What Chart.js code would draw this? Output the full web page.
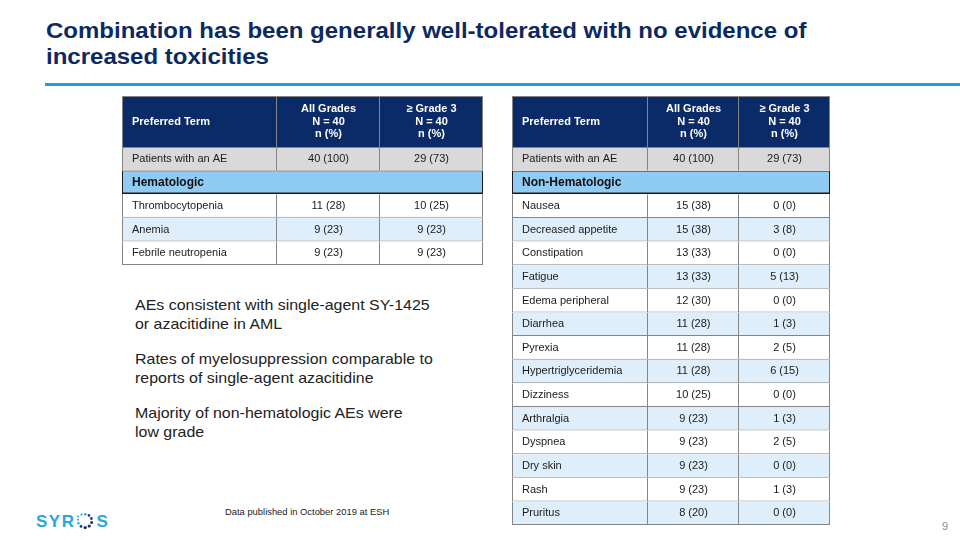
<!DOCTYPE html>
<html>
<head>
<meta charset="utf-8">
<title>Combination tolerability</title>
<script src="https://cdn.jsdelivr.net/npm/chart.js@4.4.1/dist/chart.umd.min.js"></script>
<style>
    html, body { margin: 0; padding: 0; }
    body {
        width: 960px; height: 540px; position: relative; overflow: hidden;
        background: #fff; font-family: "Liberation Sans", Arial, sans-serif;
    }
    .title {
        position: absolute; left: 46px; top: 18px; white-space: nowrap;
        font-size: 22.5px; line-height: 26px; font-weight: bold; color: #0c2a5f;
        transform: scaleX(1.067); transform-origin: left top;
    }
    .rule { position: absolute; left: 45px; top: 83px; width: 915px; height: 3px; background: #1ea0d8; }
    canvas.tbl { position: absolute; }
    #hemaHead { left: 122px; top: 96px; width: 361px; height: 51px; }
    #hemaBody { left: 122px; top: 147px; width: 361px; height: 118px; }
    #nonHemaHead { left: 512px; top: 96px; width: 318px; height: 51px; }
    #nonHemaBody { left: 512px; top: 147px; width: 318px; height: 378px; }
    .notes {
        position: absolute; left: 135px; top: 296px; white-space: nowrap;
        font-size: 14.5px; line-height: 19px; color: #222;
        transform: scaleX(1.1); transform-origin: left top;
    }
    .notes p { margin: 0 0 16px 0; }
    .source { position: absolute; left: 225px; top: 506px; font-size: 9.4px; color: #222; }
    .logo { position: absolute; left: 30px; top: 505px; }
    .page { position: absolute; left: 942px; top: 520px; font-size: 11px; color: #8c8c8c; }
</style>
</head>
<body>
<div class="title">Combination has been generally well-tolerated with no evidence of<br>increased toxicities</div>
<div class="rule"></div>

<canvas id="hemaHead" class="tbl" width="361" height="51"></canvas>
<canvas id="hemaBody" class="tbl" width="361" height="118"></canvas>
<canvas id="nonHemaHead" class="tbl" width="318" height="51"></canvas>
<canvas id="nonHemaBody" class="tbl" width="318" height="378"></canvas>

<div class="notes">
    <p>AEs consistent with single-agent SY-1425<br>or azacitidine in AML</p>
    <p>Rates of myelosuppression comparable to<br>reports of single-agent azacitidine</p>
    <p>Majority of non-hematologic AEs were<br>low grade</p>
</div>

<div class="source">Data published in October 2019 at ESH</div>

<svg class="logo" width="90" height="30" viewBox="30 505 90 30">
    <text x="36" y="527" font-family="Liberation Sans, Arial, sans-serif" font-size="17" font-weight="bold"
          letter-spacing="1.5" fill="#29a6de">SYR</text>
    <g>
        <circle cx="78" cy="516.5" r="1.0" fill="#29a6de"/>
        <circle cx="81.5" cy="514.6" r="1.1" fill="#29a6de"/>
        <circle cx="85.3" cy="514.2" r="1.2" fill="#29a6de"/>
        <circle cx="89" cy="515.4" r="1.3" fill="#1d3c7a"/>
        <circle cx="91.4" cy="518.5" r="1.4" fill="#1d3c7a"/>
        <circle cx="91.6" cy="522.5" r="1.5" fill="#1a2f6b"/>
        <circle cx="89.2" cy="526" r="1.6" fill="#1a2f6b"/>
        <circle cx="85.2" cy="527.6" r="1.6" fill="#1a2f6b"/>
        <circle cx="81" cy="526.4" r="1.4" fill="#1d3c7a"/>
        <circle cx="78.4" cy="523.2" r="1.2" fill="#29a6de"/>
        <circle cx="78" cy="519.8" r="1.0" fill="#29a6de"/>
    </g>
    <text x="96.5" y="527" font-family="Liberation Sans, Arial, sans-serif" font-size="17" font-weight="bold"
          fill="#29a6de">S</text>
</svg>

<div class="page">9</div>

<script>
'use strict';

// Column headings, shared by both tables
const colHeadings = ['Preferred Term', 'All Grades\nN = 40\nn (%)', '\u2265 Grade 3\nN = 40\nn (%)'];

// Hematologic AEs (left table); '' marks the section row
const hemaTerms = ['Patients with an AE', 'Hematologic', 'Thrombocytopenia', 'Anemia', 'Febrile neutropenia'];
const hemaAllGrades = ['40 (100)', '', '11 (28)', '9 (23)', '9 (23)'];
const hemaGrade3 = ['29 (73)', '', '10 (25)', '9 (23)', '9 (23)'];

// Non-hematologic AEs (right table)
const nonHemaTerms = [
    'Patients with an AE', 'Non-Hematologic', 'Nausea', 'Decreased appetite', 'Constipation',
    'Fatigue', 'Edema peripheral', 'Diarrhea', 'Pyrexia', 'Hypertriglyceridemia',
    'Dizziness', 'Arthralgia', 'Dyspnea', 'Dry skin', 'Rash', 'Pruritus'
];
const nonHemaAllGrades = [
    '40 (100)', '', '15 (38)', '15 (38)', '13 (33)', '13 (33)', '12 (30)', '11 (28)',
    '11 (28)', '11 (28)', '10 (25)', '9 (23)', '9 (23)', '9 (23)', '9 (23)', '8 (20)'
];
const nonHemaGrade3 = [
    '29 (73)', '', '0 (0)', '3 (8)', '0 (0)', '5 (13)', '0 (0)', '1 (3)',
    '2 (5)', '6 (15)', '0 (0)', '1 (3)', '2 (5)', '0 (0)', '1 (3)', '0 (0)'
];

const AeTables = {
    // Configuration
    config: {
        // column widths, chosen so cell edges land on whole pixels
        hemaCols: [155, 103, 103],
        nonHemaCols: [136, 91, 91],
        colors: {
            header: '#0b2a68',
            total: '#d9d9d9',
            section: '#8fcbf2',
            stripe: '#deeffb',
            plain: '#ffffff',
            grid: '#858585',
            sectionLine: '#1a1a1a'
        },
        font: '"Liberation Sans", Arial, sans-serif',
        padding: 10,
        lineHeight: 12.5
    },

    init() {
        const { hemaCols, nonHemaCols } = this.config;
        this.drawTable('hemaHead', 'hemaBody', hemaCols, hemaTerms, hemaAllGrades, hemaGrade3);
        this.drawTable('nonHemaHead', 'nonHemaBody', nonHemaCols, nonHemaTerms, nonHemaAllGrades, nonHemaGrade3);
    },

    drawTable(headId, bodyId, cols, terms, allGrades, grade3) {
        const isSection = i => i > 0 && allGrades[i] === '' && grade3[i] === '';
        const bodyKind = i => {
            if (i === 0) return 'total';
            if (isSection(i)) return 'section';
            return i % 2 === 0 ? 'plain' : 'stripe';
        };

        // heading row is its own one-category chart
        this.buildChart(headId, cols, ['heading'], colHeadings.map(h => [h]), () => 'header');
        this.buildChart(bodyId, cols, terms, [terms, allGrades, grade3], bodyKind);
    },

    buildChart(canvasId, cols, labels, cells, kindOf) {
        const { colors } = this.config;
        const last = cols.length - 1;

        const datasets = cols.map((w, c) => ({
            data: labels.map(() => w),
            backgroundColor: ctx => colors[kindOf(ctx.dataIndex)],
            borderColor: ctx => kindOf(ctx.dataIndex) === 'section' ? colors.sectionLine : colors.grid,
            borderWidth: ctx => {
                const i = ctx.dataIndex;
                const kind = kindOf(i);
                const nextKind = i + 1 < labels.length ? kindOf(i + 1) : null;
                if (kind === 'section') {
                    return { top: 1, bottom: 2, left: c === 0 ? 1 : 0, right: c === last ? 1 : 0 };
                }
                return {
                    top: i === 0 ? 1 : 0,
                    bottom: kind === 'header' || nextKind === 'section' ? 0 : 1,
                    left: c === 0 ? 1 : 0,
                    right: 1
                };
            },
            borderSkipped: false,
            inflateAmount: 0,
            barPercentage: 1,
            categoryPercentage: 1
        }));

        new Chart(document.getElementById(canvasId), {
            type: 'bar',
            data: { labels, datasets },
            options: {
                indexAxis: 'y',
                responsive: false,
                animation: false,
                events: [],
                layout: { padding: 0 },
                scales: {
                    x: { stacked: true, min: 0, max: cols.reduce((a, b) => a + b, 0), display: false },
                    y: { stacked: true, display: false }
                },
                plugins: { legend: { display: false }, tooltip: { enabled: false } }
            },
            plugins: [this.textPlugin(cells, kindOf)]
        });
    },

    // Writes each cell's text at its bar
    textPlugin(cells, kindOf) {
        const { font, padding, lineHeight } = this.config;
        return {
            id: 'cellText',
            afterDatasetsDraw(chart) {
                const ctx = chart.ctx;
                chart.data.datasets.forEach((ds, c) => {
                    chart.getDatasetMeta(c).data.forEach((bar, r) => {
                        const text = cells[c][r];
                        if (!text) return;
                        const kind = kindOf(r);
                        const { x, y, base } = bar.getProps(['x', 'y', 'base'], true);
                        const left = Math.min(x, base);
                        const right = Math.max(x, base);
                        const lines = text.split('\n');

                        ctx.save();
                        if (kind === 'header') {
                            ctx.font = 'bold 11px ' + font;
                            ctx.fillStyle = '#ffffff';
                        } else if (kind === 'section') {
                            ctx.font = 'bold 12px ' + font;
                            ctx.fillStyle = '#111111';
                        } else {
                            ctx.font = '11px ' + font;
                            ctx.fillStyle = '#1a1a1a';
                        }
                        ctx.textBaseline = 'middle';
                        let tx;
                        if (c === 0) {
                            ctx.textAlign = 'left';
                            tx = left + padding;
                        } else {
                            ctx.textAlign = 'center';
                            tx = (left + right) / 2;
                        }
                        lines.forEach((ln, k) => {
                            ctx.fillText(ln, tx, y + (k - (lines.length - 1) / 2) * lineHeight);
                        });
                        ctx.restore();
                    });
                });
            }
        };
    }
};

// Initialize when DOM is ready
document.addEventListener('DOMContentLoaded', () => {
    AeTables.init();
});
</script>
</body>
</html>
